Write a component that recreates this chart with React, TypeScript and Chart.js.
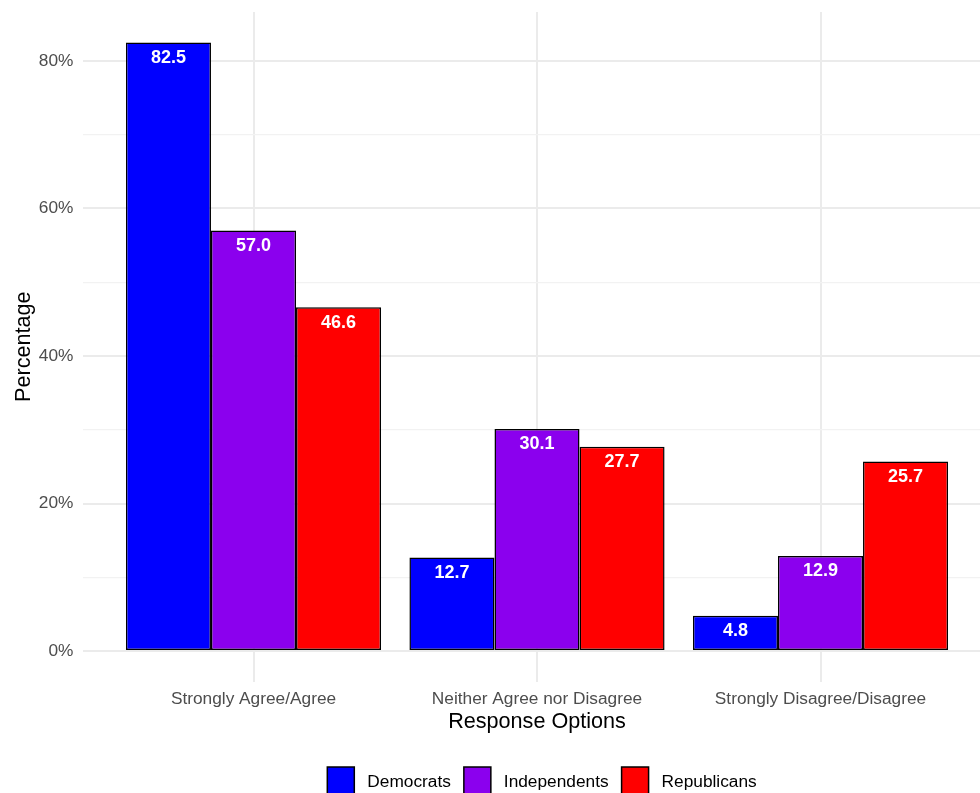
import React, { useEffect, useRef } from "react";
import { Chart, registerables } from "chart.js";

Chart.register(...registerables);

const categories = ["Strongly Agree/Agree", "Neither Agree nor Disagree", "Strongly Disagree/Disagree"];
const seriesNames = ["Democrats", "Independents", "Republicans"];
const democrats = [82.5, 12.7, 4.8];
const independents = [57.0, 30.1, 12.9];
const republicans = [46.6, 27.7, 25.7];
const seriesColors = ["#0000FF", "#8B00EE", "#FF0000"];
const yTickValues = [0, 10, 20, 30, 40, 50, 60, 70, 80];

const FONT = "'Liberation Sans', Arial, Helvetica, sans-serif";

const barLabelPlugin = {
  id: "barLabels",
  afterDatasetsDraw(chart: any) {
    const ctx = chart.ctx;
    ctx.save();
    ctx.font = `bold 18px ${FONT}`;
    ctx.fillStyle = "#FFFFFF";
    ctx.textAlign = "center";
    ctx.textBaseline = "middle";
    chart.data.datasets.forEach((ds: any, di: number) => {
      const meta = chart.getDatasetMeta(di);
      meta.data.forEach((bar: any, i: number) => {
        const v = ds.data[i].y;
        ctx.fillText(v.toFixed(1), bar.x, bar.y + 15.5);
      });
    });
    ctx.restore();
  },
};

const legendPlugin = {
  id: "customLegend",
  afterDraw(chart: any) {
    const ctx = chart.ctx;
    const ca = chart.chartArea;
    ctx.save();
    ctx.font = `17.3px ${FONT}`;
    const box = 27;
    const gap = 13;
    const itemGap = 13;
    const widths = seriesNames.map((n) => ctx.measureText(n).width);
    let total = 0;
    widths.forEach((w, i) => {
      total += box + gap + w + (i < widths.length - 1 ? itemGap : 0);
    });
    let x = (ca.left + ca.right) / 2 + 5 - total / 2;
    const cy = 780.5;
    seriesNames.forEach((n, i) => {
      ctx.fillStyle = seriesColors[i];
      ctx.fillRect(x, cy - box / 2, box, box);
      ctx.strokeStyle = "#000000";
      ctx.lineWidth = 1.5;
      ctx.strokeRect(x, cy - box / 2, box, box);
      ctx.fillStyle = "#000000";
      ctx.textAlign = "left";
      ctx.textBaseline = "middle";
      ctx.fillText(n, x + box + gap, cy + 1.5);
      x += box + gap + widths[i] + itemGap;
    });
    ctx.restore();
  },
};

export default function App() {
  const canvasRef = useRef<HTMLCanvasElement | null>(null);

  useEffect(() => {
    document.body.style.margin = "0";
    const canvas = canvasRef.current!;
    const series = [democrats, independents, republicans];
    const chart = new Chart(canvas, {
      type: "bar",
      data: {
        datasets: series.map((vals, si) => ({
          label: seriesNames[si],
          data: vals.map((v, i) => ({ x: i + 1, y: v })),
          backgroundColor: seriesColors[si],
          borderColor: "#000000",
          borderWidth: 1.5,
          borderSkipped: false,
          categoryPercentage: 0.9,
          barPercentage: 1.0,
        })),
      },
      options: {
        responsive: false,
        animation: false,
        devicePixelRatio: 1,
        layout: { padding: { top: 12, right: 9.4, bottom: 78.5, left: 0 } },
        plugins: {
          legend: { display: false },
          tooltip: { enabled: false },
        },
        scales: {
          x: {
            type: "linear",
            offset: false,
            min: 0.4,
            max: 3.6,
            afterBuildTicks: (scale: any) => {
              scale.ticks = categories.map((_, i) => ({ value: i + 1 }));
            },
            afterFit: (scale: any) => {
              scale.height = 60;
              scale.paddingLeft = 0;
              scale.paddingRight = 0;
            },
            ticks: {
              autoSkip: false,
              maxRotation: 0,
              padding: 7,
              color: "#4D4D4D",
              font: { family: FONT, size: 17.3 },
              callback: (v: any) => categories[Math.round(v) - 1] ?? "",
            },
            grid: { color: "#EBEBEB", lineWidth: 2, drawTicks: false, offset: false },
            border: { display: false },
            title: {
              display: true,
              text: "Response Options",
              color: "#000000",
              font: { family: FONT, size: 21.6 },
              padding: { top: 0, bottom: 6 },
            },
          },
          y: {
            type: "linear",
            min: -4.125,
            max: 86.625,
            afterBuildTicks: (scale: any) => {
              scale.ticks = yTickValues.map((v) => ({ value: v }));
            },
            afterFit: (scale: any) => {
              scale.width = 83.4;
              scale.paddingTop = 0;
              scale.paddingBottom = 0;
            },
            ticks: {
              autoSkip: false,
              padding: 10,
              color: "#4D4D4D",
              font: { family: FONT, size: 17.3 },
              callback: (v: any) => (Math.round(v) % 20 === 0 ? `${Math.round(v)}%` : ""),
            },
            grid: {
              drawTicks: false,
              color: (c: any) => (c.tick && Math.round(c.tick.value) % 20 === 0 ? "#EBEBEB" : "#F2F2F2"),
              lineWidth: (c: any) => (c.tick && Math.round(c.tick.value) % 20 === 0 ? 2 : 1.2),
            },
            border: { display: false },
            title: {
              display: true,
              text: "Percentage",
              color: "#000000",
              font: { family: FONT, size: 21.6 },
              padding: { top: 11, bottom: 0 },
            },
          },
        },
      },
      plugins: [barLabelPlugin, legendPlugin],
    } as any);
    return () => chart.destroy();
  }, []);

  return (
    <div style={{ position: "fixed", left: 0, top: 0, width: 980, height: 793, overflow: "hidden", background: "#FFFFFF" }}>
      <canvas ref={canvasRef} width={1000} height={820} style={{ width: 1000, height: 820, display: "block" }} />
    </div>
  );
}
